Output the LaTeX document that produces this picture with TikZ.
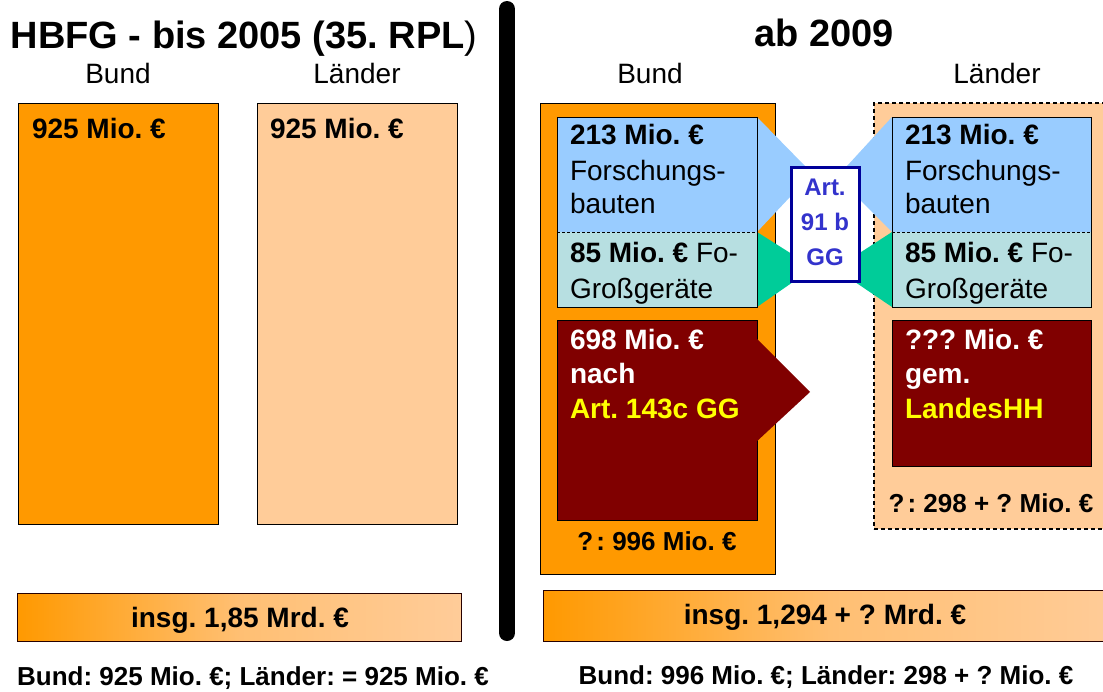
\documentclass[tikz,border=0pt]{standalone}
\usepackage{fontspec}
\setmainfont{Liberation Sans}
\definecolor{orng}{HTML}{FF9900}
\definecolor{peach}{HTML}{FFCC99}
\definecolor{lblue}{HTML}{99CCFF}
\definecolor{lteal}{HTML}{B7DFE1}
\definecolor{tealf}{HTML}{00CC99}
\definecolor{brwn}{HTML}{800000}
\definecolor{artblue}{HTML}{000099}
\definecolor{arttext}{HTML}{3333CC}
\definecolor{yel}{HTML}{FFFF00}
\newcommand\myfs[1]{\fontsize{#1}{#1}\selectfont}
\tikzset{
  box/.style={draw=black, line width=0.8pt, inner sep=0pt, outer sep=0pt, anchor=north west},
  fillbox/.style={inner sep=0pt, outer sep=0pt, anchor=north west},
  bt/.style={inner sep=0pt, outer sep=0pt, anchor=base west, font=\myfs{28}},
  ct/.style={inner sep=0pt, outer sep=0pt, anchor=base, font=\myfs{28}},
  st/.style={inner sep=0pt, outer sep=0pt, anchor=base, font=\myfs{26}\bfseries},
  ht/.style={inner sep=0pt, outer sep=0pt, anchor=base, font=\myfs{38}},
  arttxt/.style={inner sep=0pt, outer sep=0pt, anchor=base, font=\myfs{24}\bfseries, text=arttext},
  barbox/.style={draw=black!70!brwn, line width=0.8pt, inner sep=0pt, outer sep=0pt, anchor=north west,
     left color=orng, right color=peach, middle color=peach!75!orng},
}
\begin{document}
\frenchspacing
\begin{tikzpicture}[x=1pt,y=-1pt]
\useasboundingbox (0,0) rectangle (1103,691);
\clip (0,0) rectangle (1103,691);

% ---------- titles ----------
\node[ht] (t1) at (244,48) {\textbf{HBFG - bis 2005 (35. RPL}{)}};
\node[ht] (t2) at (824,46) {\textbf{ab 2009}};
\node[ct] (hlb) at (118,83) {Bund};
\node[ct] (hll) at (357,83) {Länder};
\node[ct] (hrb) at (650,83) {Bund};
\node[ct] (hrl) at (997,83) {Länder};

% ---------- separator ----------
\coordinate (sepT) at (507,9);
\coordinate (sepB) at (507,633);
\draw[line width=16pt, line cap=round] (sepT) -- (sepB);

% ---------- left side ----------
\node[box, fill=orng, minimum width=200pt, minimum height=421pt] (lbund) at (18,103) {};
\node[box, fill=peach, minimum width=200pt, minimum height=421pt] (llaender) at (257,103) {};
\node[bt] (lbundt) at (32,138) {\textbf{925 Mio. €}};
\node[bt] (llaendert) at (270,138) {\textbf{925 Mio. €}};
\node[barbox, minimum width=444pt, minimum height=48pt] (lbar) at (17,593) {};
\node[ct] (lbart) at (240,627) {\textbf{insg. 1,85 Mrd. €}};
\node[st] (lsum) at (253,685) {Bund: 925 Mio. €; Länder: = 925 Mio. €};

% ---------- right side ----------
\node[box, fill=orng, minimum width=235pt, minimum height=471pt] (rbund) at (540,103) {};
\node[box, fill=peach, line width=1.3pt, dash pattern=on 4pt off 3pt, minimum width=260pt, minimum height=426pt] (rlaender) at (874,103) {};
\node[barbox, minimum width=580pt, minimum height=51pt] (rbar) at (543,590) {};
\node[ct] (rbart) at (825,624) {\textbf{insg. 1,294 + ? Mrd. €}};
\node[st] (rsum) at (826,684) {Bund: 996 Mio. €; Länder: 298 + ? Mio. €};

% funnels (behind boxes)
\fill[lblue] (757,117) -- (805,166) -- (847,166) -- (892,117) -- (892,232) -- (860,200) -- (790,197) -- (757,232) -- cycle;
\fill[tealf] (757,232) -- (795,256) -- (855,256) -- (892,232) -- (892,307) -- (855,282) -- (793,282) -- (757,307) -- cycle;

% Bund blocks
\node[fillbox, fill=lblue, minimum width=200pt, minimum height=115pt] (bfb) at (557,117) {};
\node[fillbox, fill=lteal, minimum width=200pt, minimum height=75pt] (bgg) at (557,232) {};
\draw[dash pattern=on 3pt off 2pt, line width=0.9pt] (bfb.south west) -- (bfb.south east);
\node[box, minimum width=200pt, minimum height=190pt] (bfrm) at (557,117) {};
\node[bt] (b1) at (570,144) {\textbf{213 Mio. €}};
\node[bt] (b2) at (570,180) {Forschungs-};
\node[bt] (b3) at (570,213) {bauten};
\node[bt] (b4) at (570,262) {\textbf{85 Mio. €} Fo-};
\node[bt] (b5) at (570,298) {Großgeräte};

% Laender blocks
\node[fillbox, fill=lblue, minimum width=199pt, minimum height=115pt] (lfb) at (892,117) {};
\node[fillbox, fill=lteal, minimum width=199pt, minimum height=75pt] (lgg) at (892,232) {};
\draw[dash pattern=on 3pt off 2pt, line width=0.9pt] (lfb.south west) -- (lfb.south east);
\node[box, minimum width=199pt, minimum height=190pt] (lfrm) at (892,117) {};
\node[bt] (l1) at (905,144) {\textbf{213 Mio. €}};
\node[bt] (l2) at (905,180) {Forschungs-};
\node[bt] (l3) at (905,213) {bauten};
\node[bt] (l4) at (905,262) {\textbf{85 Mio. €} Fo-};
\node[bt] (l5) at (905,298) {Großgeräte};

% brown blocks
\node[box, fill=brwn, minimum width=200pt, minimum height=200pt] (bbr) at (557,320) {};
\fill[brwn] (755,337) -- (810,392) -- (755,443) -- cycle;
\node[bt, text=white] (bb1) at (570,349) {\textbf{698 Mio. €}};
\node[bt, text=white] (bb2) at (570,383) {\textbf{nach}};
\node[bt, text=yel] (bb3) at (570,418) {\textbf{Art. 143c GG}};
\node[st] (bsum) at (657,550) {?\hspace{3pt}: 996 Mio. €};

\node[box, fill=brwn, minimum width=199pt, minimum height=146pt] (lbr) at (892,320) {};
\node[bt, text=white] (lb1) at (905,349) {\textbf{??? Mio. €}};
\node[bt, text=white] (lb2) at (905,383) {\textbf{gem.}};
\node[bt, text=yel] (lb3) at (905,418) {\textbf{LandesHH}};
\node[st] (lsum2) at (991,512) {?\hspace{3pt}: 298 + ? Mio. €};

% Art. 91 b GG
\node[draw=artblue, line width=3pt, fill=white, minimum width=68pt, minimum height=114pt, inner sep=0pt] (art) at (825,224) {};
\node[arttxt] (a1) at (825,195) {Art.};
\node[arttxt] (a2) at (825,230) {91 b};
\node[arttxt] (a3) at (825,265) {GG};
\end{tikzpicture}
\end{document}
